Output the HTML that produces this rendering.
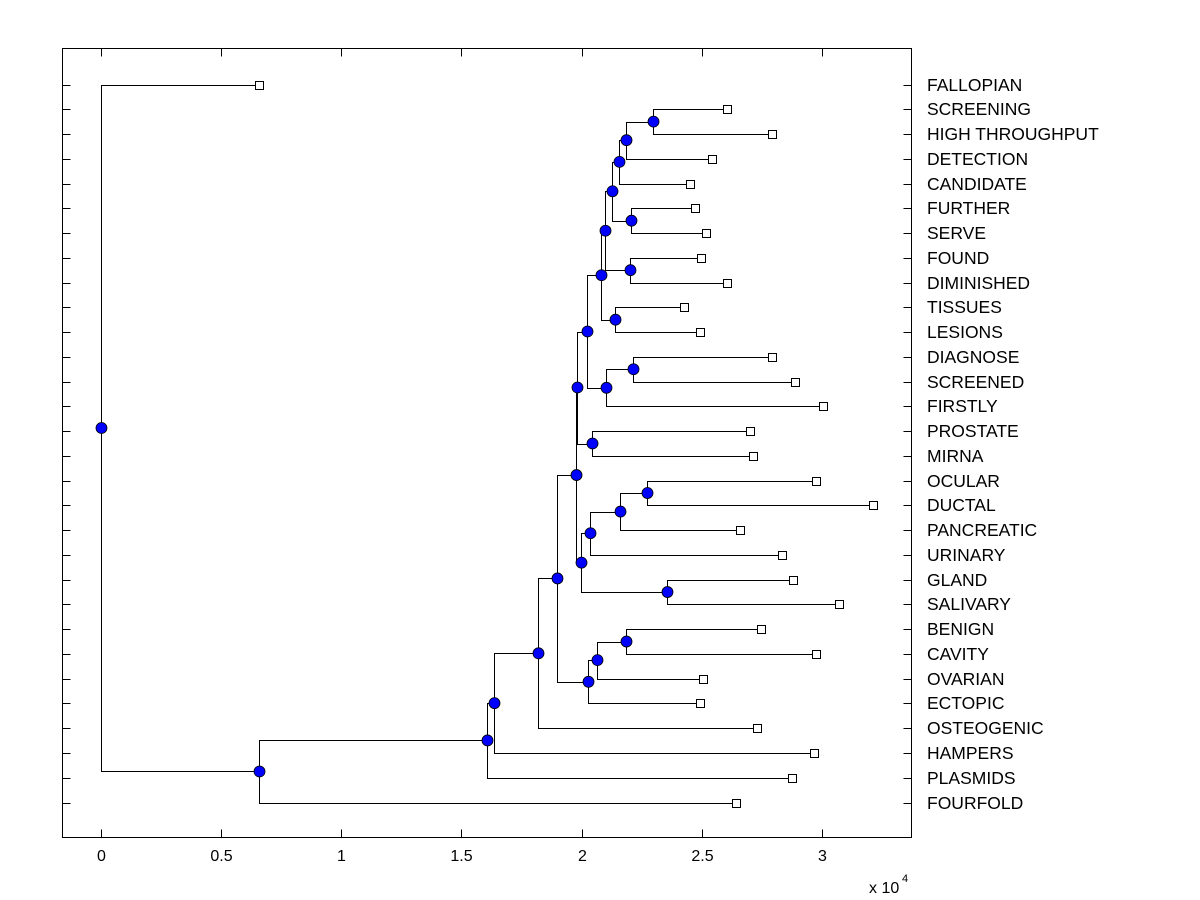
<!DOCTYPE html>
<html><head><meta charset="utf-8"><style>
html,body{margin:0;padding:0;background:#fff;}
svg{display:block;font-family:"Liberation Sans",Arial,sans-serif;}
</style></head><body>
<svg id="chart" width="1200" height="900">
<rect x="0" y="0" width="1200" height="900" fill="#fff"/>
<g id="ticks"></g>
<g id="links"></g>
<g id="marks"></g>
<g id="labels"></g>
<rect x="62.5" y="48.5" width="849" height="789" fill="none" stroke="#000" stroke-width="1"/>
<text x="869" y="893" font-size="16">x 10</text>
<text x="902" y="882" font-size="11">4</text>
</svg>
<script>
const leafNames = ["FALLOPIAN","SCREENING","HIGH THROUGHPUT","DETECTION","CANDIDATE","FURTHER","SERVE","FOUND","DIMINISHED","TISSUES","LESIONS","DIAGNOSE","SCREENED","FIRSTLY","PROSTATE","MIRNA","OCULAR","DUCTAL","PANCREATIC","URINARY","GLAND","SALIVARY","BENIGN","CAVITY","OVARIAN","ECTOPIC","OSTEOGENIC","HAMPERS","PLASMIDS","FOURFOLD"];
const leafValues = [0.661,2.603,2.794,2.541,2.453,2.470,2.516,2.495,2.603,2.428,2.491,2.790,2.886,3.002,2.699,2.715,2.973,3.210,2.657,2.832,2.881,3.069,2.748,2.973,2.507,2.491,2.728,2.965,2.877,2.644];
// internal nodes: children are leaf indices (numbers) or node names
const nodeNames = ["A","B","C","D","E","F","G","H","I","J","K","L","M","N","O","P","Q","R","S","T","U","V","W","X","Y","Z","AA","BB","ROOT"];
const nodeChildA = [1,"A","B",5,"C",7,"E",9,"G",11,"J","I",14,"L",16,"O","P",20,"Q","N",22,"U","V","T","X","Y","Z","AA",0];
const nodeChildB = [2,3,4,6,"D",8,"F",10,"H",12,13,"K",15,"M",17,18,19,21,"R","S",23,24,25,"W",26,27,28,29,"BB"];
const nodeValues = [2.299,2.183,2.154,2.204,2.125,2.200,2.096,2.141,2.083,2.216,2.100,2.021,2.045,1.983,2.274,2.162,2.037,2.357,1.996,1.975,2.187,2.066,2.025,1.896,1.821,1.638,1.605,0.661,0];
const xTicks = [0,0.5,1,1.5,2,2.5,3];
const xTickLabels = ["0","0.5","1","1.5","2","2.5","3"];

const L=62.5,R=911.5,T=48.5,B=837.5;
const xmin=-0.158,xmax=3.372;
const xs=v=>L+(v-xmin)/(xmax-xmin)*(R-L);
const ys=i=>84.5+i*(802.5-84.5)/(leafNames.length-1);
const NS='http://www.w3.org/2000/svg';
function mk(tag,attrs,parent){const e=document.createElementNS(NS,tag);for(const k in attrs)e.setAttribute(k,attrs[k]);parent.appendChild(e);return e;}
const gT=document.getElementById('ticks'),gL=document.getElementById('links'),gM=document.getElementById('marks'),gLb=document.getElementById('labels');

xTicks.forEach((v,i)=>{
  const x=Math.round(xs(v))+0.5;
  const t1=mk('line',{x1:x,y1:B,x2:x,y2:B-8,stroke:'#000'},gT);
  
  
  const t2=mk('line',{x1:x,y1:T,x2:x,y2:T+8,stroke:'#000'},gT);
  
  
  const tx=mk('text',{x:x,y:861,'font-size':16,'text-anchor':'middle'},gT);
  tx.textContent=xTickLabels[i];
  
  
});

const pos={};
leafNames.forEach((n,i)=>{pos[i]={x:xs(leafValues[i]),y:ys(i)};
  const y=Math.round(ys(i))+0.5;
  const a=mk('line',{x1:L,y1:y,x2:L+8,y2:y,stroke:'#000'},gT);
  
  
  const b=mk('line',{x1:R,y1:y,x2:R-8,y2:y,stroke:'#000'},gT);
  
  
  const t=mk('text',{x:927,y:y+5.5,'font-size':17.5},gLb);
  t.textContent=n;
  
  
});
nodeNames.forEach((n,i)=>{
  const a=pos[nodeChildA[i]],b=pos[nodeChildB[i]];
  const x=xs(nodeValues[i]);const y=(a.y+b.y)/2;pos[n]={x:x,y:y};
  const p=mk('path',{d:`M${a.x},${Math.round(a.y)+0.5}H${Math.round(x)+0.5}V${Math.round(b.y)+0.5}H${b.x}`,fill:'none',stroke:'#000','stroke-width':1},gL);
  
  
});
leafNames.forEach((n,i)=>{
  const p=pos[i];
  const r=mk('rect',{x:Math.round(p.x)-3.5,y:Math.round(p.y)-3.5,width:8,height:8,fill:'#fff',stroke:'#000'},gM);
  
  
});
nodeNames.forEach(n=>{
  const p=pos[n];
  const c=mk('circle',{cx:Math.round(p.x)+0.5,cy:p.y,r:5.5,fill:'#0000ff',stroke:'#000','stroke-width':0.8},gM);
  
  
});
</script>
</body></html>
